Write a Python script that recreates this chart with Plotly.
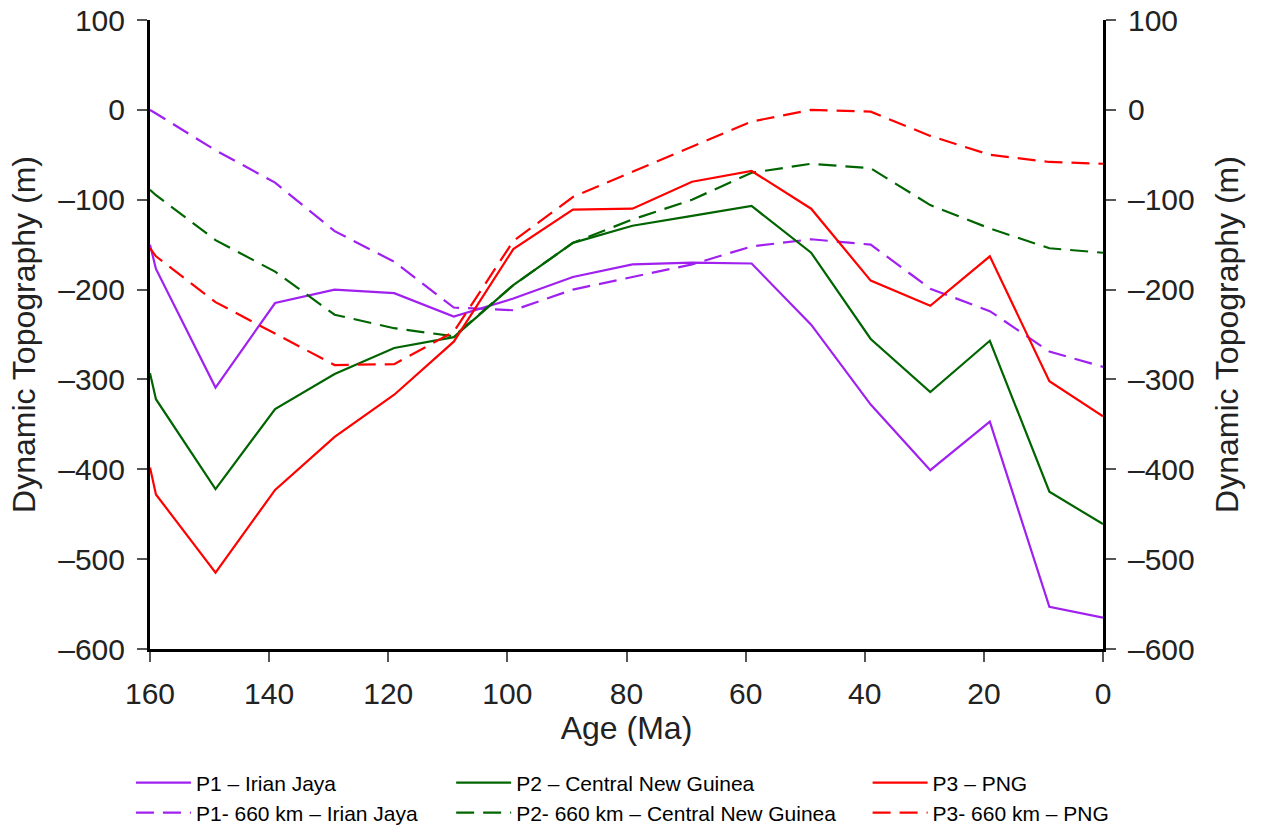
import plotly.graph_objects as go

age = [160, 159, 149, 139, 129, 119, 109, 99, 89, 79, 69, 59, 49, 39, 29, 19, 9, 0]

p1 = [-150, -177, -309, -215, -200, -204, -230, -210, -186, -172, -170, -171, -239, -328, -401, -347, -553, -565]
p1_660 = [0, -4, -45, -81, -135, -169, -220, -223, -200, -186, -172, -152, -144, -150, -199, -224, -269, -286]
p2 = [-293, -322, -422, -333, -294, -265, -253, -195, -148, -129, -118, -107, -159, -255, -314, -257, -425, -461]
p2_660 = [-89, -95, -145, -180, -228, -243, -252, -195, -148, -122, -100, -70, -60, -65, -106, -132, -154, -159]
p3 = [-398, -428, -515, -423, -364, -317, -258, -155, -111, -110, -80, -68, -110, -190, -218, -163, -302, -341]
p3_660 = [-154, -163, -214, -249, -284, -283, -247, -146, -97, -69, -41, -13, 0, -2, -29, -50, -58, -60]

names = ["P1 – Irian Jaya", "P1- 660 km – Irian Jaya",
         "P2 – Central New Guinea", "P2- 660 km – Central New Guinea",
         "P3 – PNG", "P3- 660 km – PNG"]
series = [p1, p1_660, p2, p2_660, p3, p3_660]
colors = ["#A020F0", "#A020F0", "#006400", "#006400", "#FF0000", "#FF0000"]
dashes = ["solid", "18px,9px", "solid", "18px,9px", "solid", "18px,9px"]
legends = ["legend", "legend2", "legend3", "legend4", "legend5", "legend6"]

fig = go.Figure()
for nm, s, c, d, lg in zip(names, series, colors, dashes, legends):
    fig.add_trace(go.Scatter(x=age, y=s, mode="lines", name=nm,
                             line=dict(color=c, width=2.2, dash=d), legend=lg))

# invisible trace for the right-hand axis
fig.add_trace(go.Scatter(x=[age[0]], y=[p1[0]], yaxis="y2", mode="lines",
                         showlegend=False, hoverinfo="skip", line=dict(width=0)))

FONT = "Liberation Sans, Arial, Helvetica, sans-serif"
tickfont = dict(family=FONT, size=30, color="#222")
titlefont = dict(family=FONT, size=32, color="#222")
legfont = dict(family=FONT, size=21, color="#000")

yticks = [-600, -500, -400, -300, -200, -100, 0, 100]
ytext = ["–600", "–500", "–400", "–300", "–200", "–100", "0", "100"]

yax = dict(range=[-600, 100], tickvals=yticks, ticktext=ytext,
           ticks="outside", ticklen=10, tickwidth=1.5, tickcolor="#555",
           ticklabelstandoff=6,
           showline=True, linewidth=3, linecolor="black", showgrid=False, zeroline=False,
           tickfont=tickfont, title=dict(text="Dynamic Topography (m)", font=titlefont, standoff=14))

fig.update_layout(
    width=1262, height=828,
    margin=dict(l=150, r=159, t=20, b=179, autoexpand=False),
    paper_bgcolor="white", plot_bgcolor="white",
    xaxis=dict(range=[160, 0], tickvals=[160, 140, 120, 100, 80, 60, 40, 20, 0],
               ticks="outside", ticklen=10, tickwidth=1.5, tickcolor="#555",
               ticklabelstandoff=6,
               showline=True, linewidth=3, linecolor="black", showgrid=False, zeroline=False,
               tickfont=tickfont, title=dict(text="Age (Ma)", font=titlefont, standoff=6)),
    yaxis=yax,
    yaxis2=dict(yax, overlaying="y", side="right", anchor="x",
                title=dict(text="Dynamic Topography (m)", font=titlefont, standoff=22)),
)

colx = [-0.020, 0.316, 0.753]
rowy = [-0.213, -0.2607]
for i, lg in enumerate(legends):
    col, row = i // 2, i % 2
    fig.update_layout({lg: dict(x=colx[col], y=rowy[row], xanchor="left", yanchor="middle",
                                orientation="v", font=legfont, bgcolor="rgba(0,0,0,0)",
                                itemwidth=55)})

fig.write_html("out.html")
